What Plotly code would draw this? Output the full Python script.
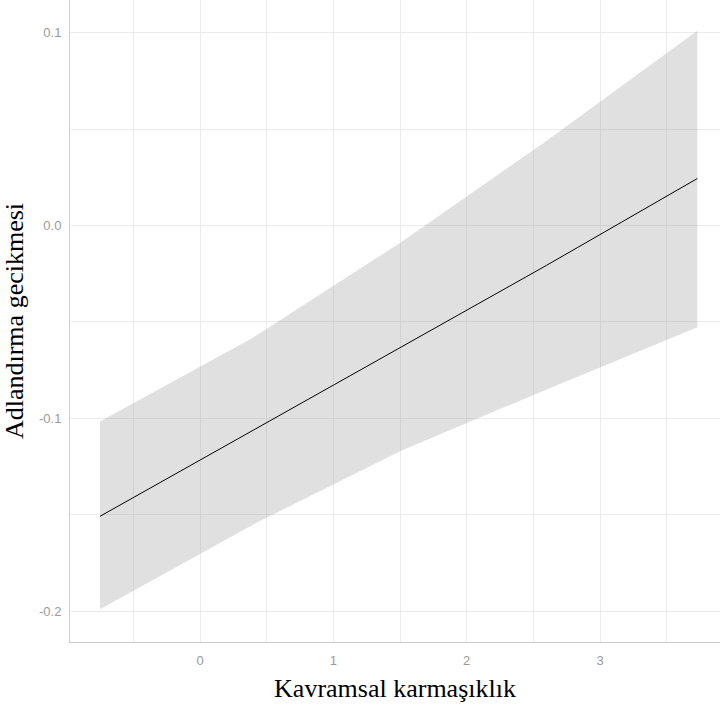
import plotly.graph_objects as go

# Data
x_vals = [-0.75, 0.4, 1.5, 2.6, 3.73]
fit = [-0.1508, -0.1061, -0.0634, -0.0206, 0.0244]
upper = [-0.1016, -0.058, -0.009, 0.044, 0.101]
lower = [-0.199, -0.155, -0.117, -0.085, -0.0528]

x_ticks = [0, 1, 2, 3]
y_ticks = [-0.2, -0.1, 0.0, 0.1]
y_tick_labels = ["-0.2", "-0.1", "0.0", "0.1"]

fig = go.Figure()
fig.add_trace(go.Scatter(x=x_vals, y=lower, mode="lines", line=dict(width=0),
                         showlegend=False, hoverinfo="skip"))
fig.add_trace(go.Scatter(x=x_vals, y=upper, mode="lines", line=dict(width=0),
                         fill="tonexty", fillcolor="rgba(153,153,153,0.3)",
                         showlegend=False, hoverinfo="skip"))
fig.add_trace(go.Scatter(x=x_vals, y=fit, mode="lines",
                         line=dict(color="black", width=1), showlegend=False))

grid = "#ebebeb"
tickfont = dict(family="Liberation Sans, Arial", size=13, color="#9a9a9a")
titlefont = dict(family="Liberation Serif, Times New Roman", size=26, color="black")
fig.update_layout(
    width=720, height=710,
    margin=dict(l=70, r=0, t=0, b=68, autoexpand=False),
    paper_bgcolor="white", plot_bgcolor="white",
    xaxis=dict(range=[-0.975, 3.9], tickvals=x_ticks, showgrid=True, gridcolor=grid,
               gridwidth=1, zeroline=False, showline=True, linecolor="#cccccc", linewidth=1,
               ticks="", ticklabelstandoff=6, tickfont=tickfont,
               minor=dict(tickvals=[-0.5, 0.5, 1.5, 2.5, 3.5], showgrid=True, gridcolor=grid, gridwidth=1),
               title=dict(text="Kavramsal karmaşıklık", standoff=12, font=titlefont)),
    yaxis=dict(range=[-0.216, 0.117], tickvals=y_ticks, ticktext=y_tick_labels, showgrid=True,
               gridcolor=grid, gridwidth=1, zeroline=False, showline=True, linecolor="#cccccc",
               linewidth=1, ticks="", ticklabelstandoff=5, tickfont=tickfont,
               minor=dict(tickvals=[-0.15, -0.05, 0.05], showgrid=True, gridcolor=grid, gridwidth=1),
               title=dict(text="Adlandırma gecikmesi", standoff=15, font=titlefont)),
)

fig.write_html("out.html", config={"displayModeBar": False},
               post_script="document.body.style.margin='0';")
